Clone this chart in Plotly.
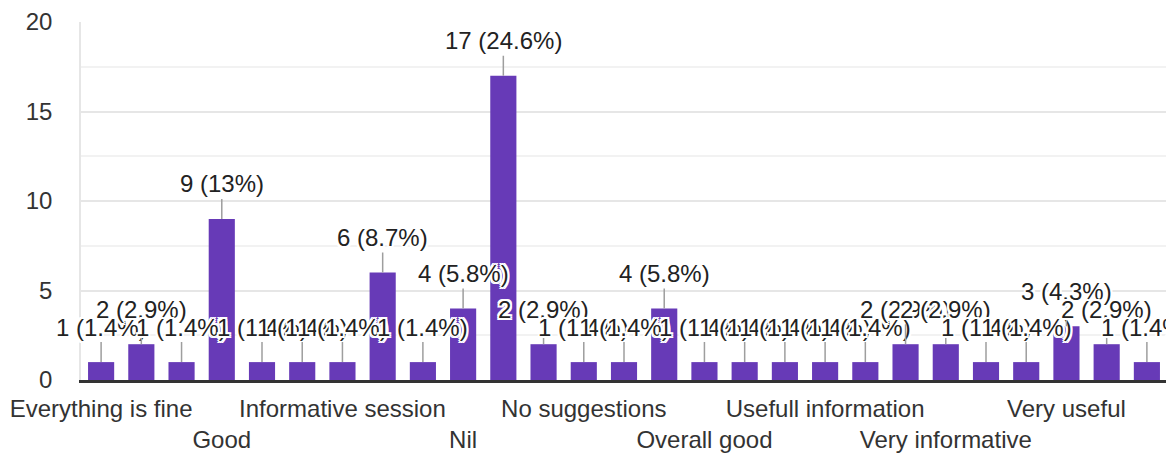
import plotly.graph_objects as go

# responses, sorted as in the form summary
answers = [
    "Everything is fine", "Excellent", "Fine", "Good", "Good session", "Helpful",
    "Informative session", "It was informative", "Knowledgeable", "Nil", "No",
    "No suggestion", "No suggestions", "Nothing", "Ok", "Overall good",
    "Satisfied", "Useful", "Usefull information", "Very good", "Very helpful",
    "Very informative", "Very interesting", "Very nice", "Very useful",
    "Very well", "Well organized",
]
counts = [1, 2, 1, 9, 1, 1, 1, 6, 1, 4, 17, 2, 1, 1, 4, 1, 1, 1, 1, 1, 2, 2, 1, 1, 3, 2, 1]

# only every third answer gets a tick label, alternating between two rows
shown = answers[::3]
shown_text = [a if i % 2 == 0 else "<br>" + a for i, a in enumerate(shown)]

total = sum(counts)


def pct(n):
    p = round(n / total * 100, 1)
    s = f"{p:.1f}".rstrip("0").rstrip(".")
    return f"{n} ({s}%)"


font_family = "Liberation Sans, Arial, sans-serif"
halo = ("2px 0 0 white, -2px 0 0 white, 0 2px 0 white, 0 -2px 0 white, "
        "2px 2px 0 white, -2px -2px 0 white, 2px -2px 0 white, -2px 2px 0 white")

fig = go.Figure(go.Bar(
    x=answers, y=counts,
    marker=dict(color="#673ab7", line=dict(width=0)),
    hoverinfo="x+y",
))

for a, n in zip(answers, counts):
    fig.add_annotation(
        x=a, y=n, text=pct(n),
        showarrow=True, arrowhead=0, arrowwidth=1.5, arrowcolor="#9e9e9e",
        ax=0, ay=-35, standoff=0,
        font=dict(family=font_family, size=24, color="#222", shadow=halo),
    )

# the page body adds an 8px offset, so margins are trimmed by that much
fig.update_layout(
    width=1166, height=447,
    margin=dict(l=73, r=7, t=14, b=75),
    paper_bgcolor="white", plot_bgcolor="white",
    bargap=0.35,
    showlegend=False,
    font=dict(family=font_family, size=24, color="#333"),
    xaxis=dict(
        type="category", automargin=False,
        range=[-0.5, len(answers) - 0.5], autorange=False,
        tickmode="array", tickvals=shown, ticktext=shown_text,
        tickangle=0,
        showgrid=False,
        showline=True, linecolor="#333", linewidth=3,
        ticks="", ticklabelstandoff=5,
        tickfont=dict(size=24, color="#333"),
    ),
    yaxis=dict(
        range=[0, 20], dtick=5, automargin=False, autorange=False,
        showgrid=True, gridcolor="#e6e6e6", gridwidth=1.5,
        minor=dict(dtick=2.5, showgrid=True, gridcolor="#f2f2f2", gridwidth=1.5),
        zeroline=False,
        showline=True, mirror=True, linecolor="#e6e6e6", linewidth=1.5,
        ticks="", ticklabelstandoff=22,
        tickfont=dict(size=24, color="#333"),
    ),
)

fig.write_html("out.html")
